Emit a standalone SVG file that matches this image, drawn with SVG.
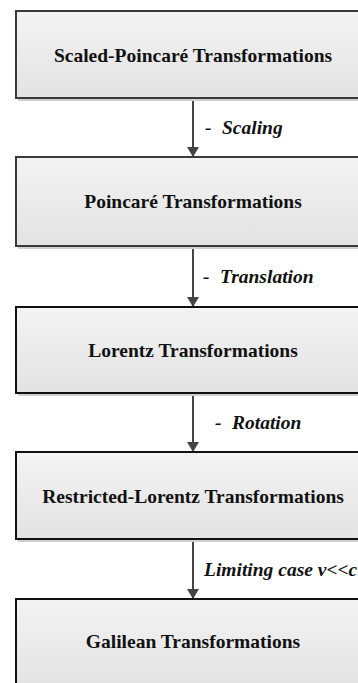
<svg xmlns="http://www.w3.org/2000/svg" width="358" height="683" viewBox="0 0 358 683">
<style>
.box{stroke:#3a3a3a;stroke-width:2;fill:url(#g)}
.box.dk{stroke:#111}
.sh{fill:#cfcfcf}
.title{font-family:"Liberation Serif","Times New Roman",serif;font-weight:bold;font-size:19.5px;fill:#111;text-anchor:middle}
.lbl{font-family:"Liberation Serif","Times New Roman",serif;font-weight:bold;font-style:italic;font-size:19.5px;fill:#111}
.conn{stroke:#444;stroke-width:2;fill:none;marker-end:url(#ah)}
</style>
<defs>
<linearGradient id="g" x1="0" y1="0" x2="0" y2="1">
<stop offset="0" stop-color="#f3f3f3"/>
<stop offset="1" stop-color="#e3e3e3"/>
</linearGradient>
<marker id="ah" viewBox="0 0 10 12" refX="10" refY="6" markerWidth="10" markerHeight="12" markerUnits="userSpaceOnUse" orient="auto">
<path d="M0,0 L10,6 L0,12 Z" fill="#444"/>
</marker>
</defs>
<rect width="358" height="683" fill="#fff"/>
<g id="connectors">
<line class="conn" x1="193" y1="99" x2="193" y2="157"/>
<line class="conn" x1="193" y1="247" x2="193" y2="307"/>
<line class="conn" x1="193" y1="394" x2="193" y2="452"/>
<line class="conn" x1="193" y1="540" x2="193" y2="599"/>
<text class="lbl" x="205" y="134">-</text>
<text class="lbl" x="222" y="134">Scaling</text>
<text class="lbl" x="203" y="283">-</text>
<text class="lbl" x="220" y="283">Translation</text>
<text class="lbl" x="215" y="429">-</text>
<text class="lbl" x="232" y="429">Rotation</text>
<text class="lbl" x="204" y="576">Limiting case v&lt;&lt;c</text>
</g>
<g id="n1">
<rect class="sh" x="18" y="13" width="354" height="88"/>
<rect class="box" x="16" y="11" width="354" height="87"/>
<text class="title" x="193" y="62">Scaled-Poincaré Transformations</text>
</g>
<g id="n2">
<rect class="sh" x="18" y="159" width="354" height="90"/>
<rect class="box" x="16" y="157" width="354" height="89"/>
<text class="title" x="193" y="208">Poincaré Transformations</text>
</g>
<g id="n3">
<rect class="sh" x="18" y="309" width="354" height="87"/>
<rect class="box dk" x="16" y="307" width="354" height="86"/>
<text class="title" x="193" y="357">Lorentz Transformations</text>
</g>
<g id="n4">
<rect class="sh" x="18" y="454" width="354" height="88"/>
<rect class="box dk" x="16" y="452" width="354" height="87"/>
<text class="title" x="193" y="503">Restricted-Lorentz Transformations</text>
</g>
<g id="n5">
<rect class="sh" x="18" y="601" width="354" height="90"/>
<rect class="box dk" x="16" y="599" width="354" height="89"/>
<text class="title" x="193" y="648">Galilean Transformations</text>
</g>
</svg>
